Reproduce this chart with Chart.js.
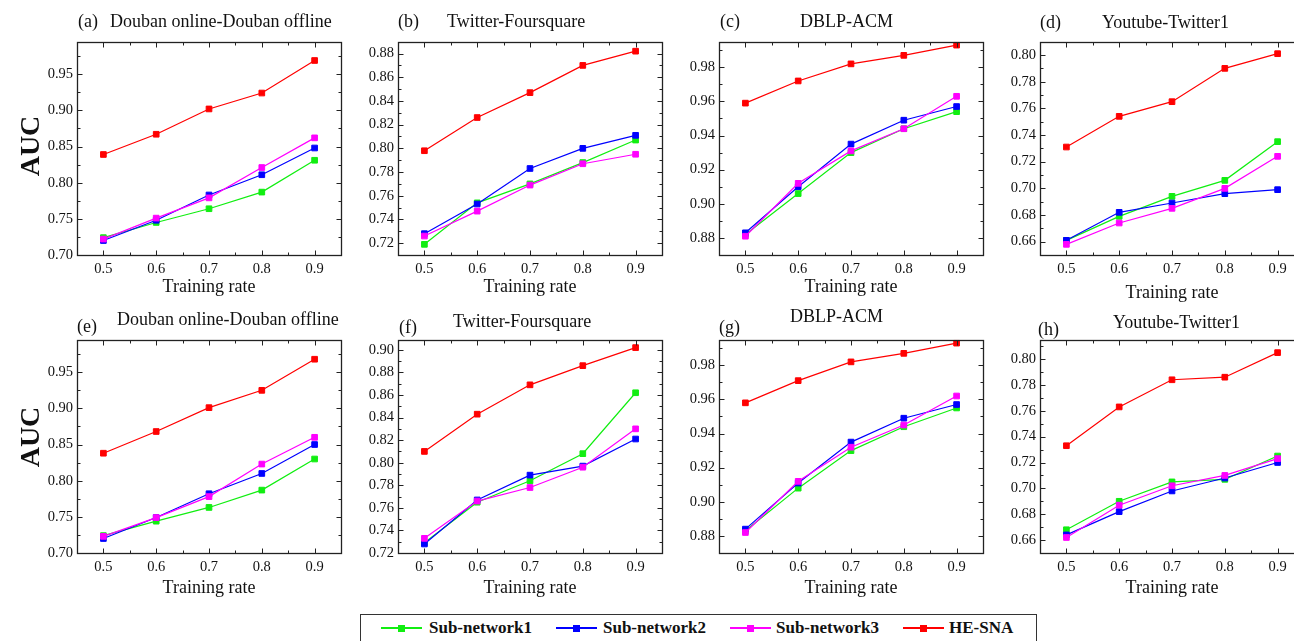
<!DOCTYPE html>
<html>
<head>
<meta charset="utf-8">
<script src="https://cdn.jsdelivr.net/npm/chart.js@4.4.1/dist/chart.umd.min.js"></script>
<style>
  html, body { margin: 0; padding: 0; width: 1294px; height: 641px; overflow: hidden; background: #fff; }
  body { position: relative; font-family: "Liberation Serif", "Times New Roman", serif; color: #111; }
  canvas { position: absolute; }
  .lbl { position: absolute; white-space: nowrap; font-size: 18px; line-height: 18px; }
  .auc { position: absolute; width: 120px; height: 32px; line-height: 32px; text-align: center;
         font-weight: bold; font-size: 28px; transform: rotate(-90deg); }
  #legend { position: absolute; left: 360px; top: 614px; width: 677px; height: 40px;
            border: 1px solid #333; box-sizing: border-box; }
  .lg-line { position: absolute; height: 1.5px; }
  .lg-mark { position: absolute; width: 7px; height: 7px; }
  .lg-text { position: absolute; font-weight: bold; font-size: 17px; line-height: 17px; white-space: nowrap; }
</style>
</head>
<body>
<script>
// training rates on the x axis
const RATES = [0.5, 0.6, 0.7, 0.8, 0.9];

const SERIES_NAMES = ["Sub-network1", "Sub-network2", "Sub-network3", "HE-SNA"];
const SERIES_COLORS = ["#11ee11", "#0000ff", "#ff00ff", "#ff0000"];

// AUC values per panel, in SERIES_NAMES order
const A_VALUES = [
  [0.724, 0.745, 0.764, 0.787, 0.831],
  [0.720, 0.748, 0.783, 0.811, 0.848],
  [0.722, 0.751, 0.779, 0.821, 0.862],
  [0.839, 0.867, 0.902, 0.924, 0.969],
];
const B_VALUES = [
  [0.719, 0.754, 0.770, 0.788, 0.807],
  [0.728, 0.753, 0.783, 0.800, 0.811],
  [0.726, 0.747, 0.769, 0.787, 0.795],
  [0.798, 0.826, 0.847, 0.870, 0.882],
];
const C_VALUES = [
  [0.882, 0.906, 0.930, 0.944, 0.954],
  [0.883, 0.910, 0.935, 0.949, 0.957],
  [0.881, 0.912, 0.931, 0.944, 0.963],
  [0.959, 0.972, 0.982, 0.987, 0.993],
];
const D_VALUES = [
  [0.661, 0.679, 0.694, 0.706, 0.735],
  [0.661, 0.682, 0.689, 0.696, 0.699],
  [0.658, 0.674, 0.685, 0.700, 0.724],
  [0.731, 0.754, 0.765, 0.790, 0.801],
];
const E_VALUES = [
  [0.724, 0.744, 0.763, 0.787, 0.830],
  [0.720, 0.749, 0.782, 0.810, 0.850],
  [0.723, 0.749, 0.778, 0.823, 0.860],
  [0.838, 0.868, 0.901, 0.925, 0.968],
];
const F_VALUES = [
  [0.729, 0.765, 0.784, 0.808, 0.862],
  [0.728, 0.767, 0.789, 0.797, 0.821],
  [0.733, 0.766, 0.778, 0.796, 0.830],
  [0.810, 0.843, 0.869, 0.886, 0.902],
];
const G_VALUES = [
  [0.883, 0.908, 0.930, 0.944, 0.955],
  [0.884, 0.911, 0.935, 0.949, 0.957],
  [0.882, 0.912, 0.932, 0.945, 0.962],
  [0.958, 0.971, 0.982, 0.987, 0.993],
];
const H_VALUES = [
  [0.668, 0.690, 0.705, 0.707, 0.725],
  [0.664, 0.682, 0.698, 0.708, 0.720],
  [0.662, 0.687, 0.702, 0.710, 0.723],
  [0.733, 0.763, 0.784, 0.786, 0.805],
];

// y tick labels
const DOUBAN_TICKS = [0.70, 0.75, 0.80, 0.85, 0.90, 0.95];
const TF_TICKS_TOP = [0.72, 0.74, 0.76, 0.78, 0.80, 0.82, 0.84, 0.86, 0.88];
const TF_TICKS_BOTTOM = [0.72, 0.74, 0.76, 0.78, 0.80, 0.82, 0.84, 0.86, 0.88, 0.90];
const DBLP_TICKS = [0.88, 0.90, 0.92, 0.94, 0.96, 0.98];
const YT_TICKS = [0.66, 0.68, 0.70, 0.72, 0.74, 0.76, 0.78, 0.80];

const PANELS = [
  { tag: "(a)", title: "Douban online-Douban offline", values: A_VALUES, yTicks: DOUBAN_TICKS, yMin: 0.70, yMax: 0.995,
    left: 77, top: 37, tagPos: [78, 22], titlePos: [110, 22], xTitlePad: 7 },
  { tag: "(b)", title: "Twitter-Foursquare", values: B_VALUES, yTicks: TF_TICKS_TOP, yMin: 0.71, yMax: 0.89,
    left: 398, top: 37, tagPos: [398, 22], titlePos: [447, 22], xTitlePad: 7 },
  { tag: "(c)", title: "DBLP-ACM", values: C_VALUES, yTicks: DBLP_TICKS, yMin: 0.87, yMax: 0.995,
    left: 719, top: 37, tagPos: [720, 22], titlePos: [800, 22], xTitlePad: 7 },
  { tag: "(d)", title: "Youtube-Twitter1", values: D_VALUES, yTicks: YT_TICKS, yMin: 0.65, yMax: 0.81,
    left: 1040, top: 37, tagPos: [1040, 23], titlePos: [1102, 23], xTitlePad: 1 },
  { tag: "(e)", title: "Douban online-Douban offline", values: E_VALUES, yTicks: DOUBAN_TICKS, yMin: 0.70, yMax: 0.995,
    left: 77, top: 335, tagPos: [77, 327], titlePos: [117, 320], xTitlePad: 4 },
  { tag: "(f)", title: "Twitter-Foursquare", values: F_VALUES, yTicks: TF_TICKS_BOTTOM, yMin: 0.72, yMax: 0.909,
    left: 398, top: 335, tagPos: [399, 328], titlePos: [453, 322], xTitlePad: 4 },
  { tag: "(g)", title: "DBLP-ACM", values: G_VALUES, yTicks: DBLP_TICKS, yMin: 0.87, yMax: 0.995,
    left: 719, top: 335, tagPos: [719, 328], titlePos: [790, 317], xTitlePad: 4 },
  { tag: "(h)", title: "Youtube-Twitter1", values: H_VALUES, yTicks: YT_TICKS, yMin: 0.65, yMax: 0.815,
    left: 1040, top: 335, tagPos: [1038, 330], titlePos: [1113, 323], xTitlePad: 4 },
];

const PLOT_W = 264, PLOT_H = 218;
const PAD_L = 70, PAD_T = 8, PAD_R = 8, PAD_B = 50;

Chart.defaults.font.family = "'Liberation Serif', 'Times New Roman', serif";
Chart.defaults.color = "#111";

function minorsOf(majors, lo, hi) {
  const step = majors[1] - majors[0];
  const out = [];
  for (let v = majors[0] - step / 2; v < hi; v += step) {
    if (v > lo + 1e-6 && v < hi - 1e-6) out.push(v);
  }
  return out;
}

// Origin-style frame with inward ticks on all four sides
const frameTicks = {
  id: "frameTicks",
  afterDraw(chart, args, opts) {
    const { ctx, chartArea: a, scales: { x, y } } = chart;
    const L = Math.round(a.left) + 0.5, R = Math.round(a.right) + 0.5;
    const T = Math.round(a.top) + 0.5, B = Math.round(a.bottom) + 0.5;
    ctx.save();
    ctx.strokeStyle = "#222";
    ctx.lineWidth = 1;
    const xMinor = minorsOf(RATES, x.min, x.max);
    const yMinor = minorsOf(opts.yTicks, y.min, y.max);
    ctx.beginPath();
    const xt = (v, len) => {
      const p = Math.round(x.getPixelForValue(v)) + 0.5;
      ctx.moveTo(p, B); ctx.lineTo(p, B - len);
      ctx.moveTo(p, T); ctx.lineTo(p, T + len);
    };
    const yt = (v, len) => {
      const p = Math.round(y.getPixelForValue(v)) + 0.5;
      ctx.moveTo(L, p); ctx.lineTo(L + len, p);
      ctx.moveTo(R, p); ctx.lineTo(R - len, p);
    };
    RATES.forEach((v) => xt(v, 5));
    xMinor.forEach((v) => xt(v, 3));
    opts.yTicks.forEach((v) => yt(v, 5));
    yMinor.forEach((v) => yt(v, 3));
    ctx.stroke();
    ctx.lineWidth = 1.3;
    ctx.strokeRect(L, T, R - L, B - T);
    ctx.restore();
  },
};

function addLabel(text, pos, cls) {
  const d = document.createElement("div");
  d.className = cls || "lbl";
  d.textContent = text;
  d.style.left = pos[0] + "px";
  d.style.top = (pos[1] - 10) + "px";
  document.body.appendChild(d);
}

PANELS.forEach((p) => {
  const cv = document.createElement("canvas");
  const w = PLOT_W + PAD_L + PAD_R, h = PLOT_H + PAD_T + PAD_B;
  cv.width = w; cv.height = h;
  cv.style.left = (p.left - PAD_L) + "px";
  cv.style.top = (p.top - PAD_T) + "px";
  cv.style.width = w + "px"; cv.style.height = h + "px";
  document.body.appendChild(cv);

  new Chart(cv, {
    type: "line",
    data: {
      datasets: p.values.map((vals, i) => ({
        label: SERIES_NAMES[i],
        data: vals.map((v, k) => ({ x: RATES[k], y: v })),
        borderColor: SERIES_COLORS[i],
        backgroundColor: SERIES_COLORS[i],
        pointBackgroundColor: SERIES_COLORS[i],
        pointBorderColor: SERIES_COLORS[i],
        pointStyle: "rect",
        pointRadius: 4,
        pointBorderWidth: 1,
        borderWidth: 1.2,
        tension: 0,
        order: 4 - i,
      })),
    },
    options: {
      responsive: false,
      animation: false,
      devicePixelRatio: 1,
      layout: { padding: { left: 0, top: PAD_T, right: PAD_R, bottom: 0 } },
      plugins: {
        legend: { display: false },
        tooltip: { enabled: false },
        frameTicks: { yTicks: p.yTicks },
      },
      scales: {
        x: {
          type: "linear",
          min: 0.45,
          max: 0.95,
          afterBuildTicks: (s) => { s.ticks = RATES.map((v) => ({ value: v })); },
          afterFit: (s) => { s.height = PAD_B; },
          grid: { display: false, drawTicks: false },
          border: { display: false },
          ticks: { padding: 5, font: { size: 14.5 }, color: "#111", callback: (v) => v.toFixed(1) },
          title: { display: true, text: "Training rate", font: { size: 18 }, color: "#111",
                   padding: { top: 0, bottom: p.xTitlePad } },
        },
        y: {
          min: p.yMin,
          max: p.yMax,
          afterBuildTicks: (s) => { s.ticks = p.yTicks.map((v) => ({ value: v })); },
          afterFit: (s) => { s.width = PAD_L; },
          grid: { display: false, drawTicks: false },
          border: { display: false },
          ticks: { padding: 4, font: { size: 14.5 }, color: "#111", callback: (v) => v.toFixed(2) },
        },
      },
    },
    plugins: [frameTicks],
  });

  addLabel(p.tag, p.tagPos);
  addLabel(p.title, p.titlePos);
});

// rotated y titles
[[30, 146], [30, 437]].forEach((c) => {
  const d = document.createElement("div");
  d.className = "auc";
  d.textContent = "AUC";
  d.style.left = (c[0] - 60) + "px";
  d.style.top = (c[1] - 16) + "px";
  document.body.appendChild(d);
});

// shared legend
const LEGEND_X = [[380, 428], [555, 602], [729, 775], [902, 948]];
const legend = document.createElement("div");
legend.id = "legend";
document.body.appendChild(legend);
SERIES_NAMES.forEach((name, i) => {
  const [lx, tx] = LEGEND_X[i];
  const cy = 628 - 614 - 1;
  const line = document.createElement("div");
  line.className = "lg-line";
  line.style.left = (lx - 360) + "px";
  line.style.width = "41px";
  line.style.top = (cy - 0.75) + "px";
  line.style.background = SERIES_COLORS[i];
  legend.appendChild(line);
  const mark = document.createElement("div");
  mark.className = "lg-mark";
  mark.style.left = (lx - 360 + 17) + "px";
  mark.style.top = (cy - 3.5) + "px";
  mark.style.background = SERIES_COLORS[i];
  legend.appendChild(mark);
  const t = document.createElement("div");
  t.className = "lg-text";
  t.textContent = name;
  t.style.left = (tx - 360) + "px";
  t.style.top = (cy - 9) + "px";
  legend.appendChild(t);
});
</script>
</body>
</html>
